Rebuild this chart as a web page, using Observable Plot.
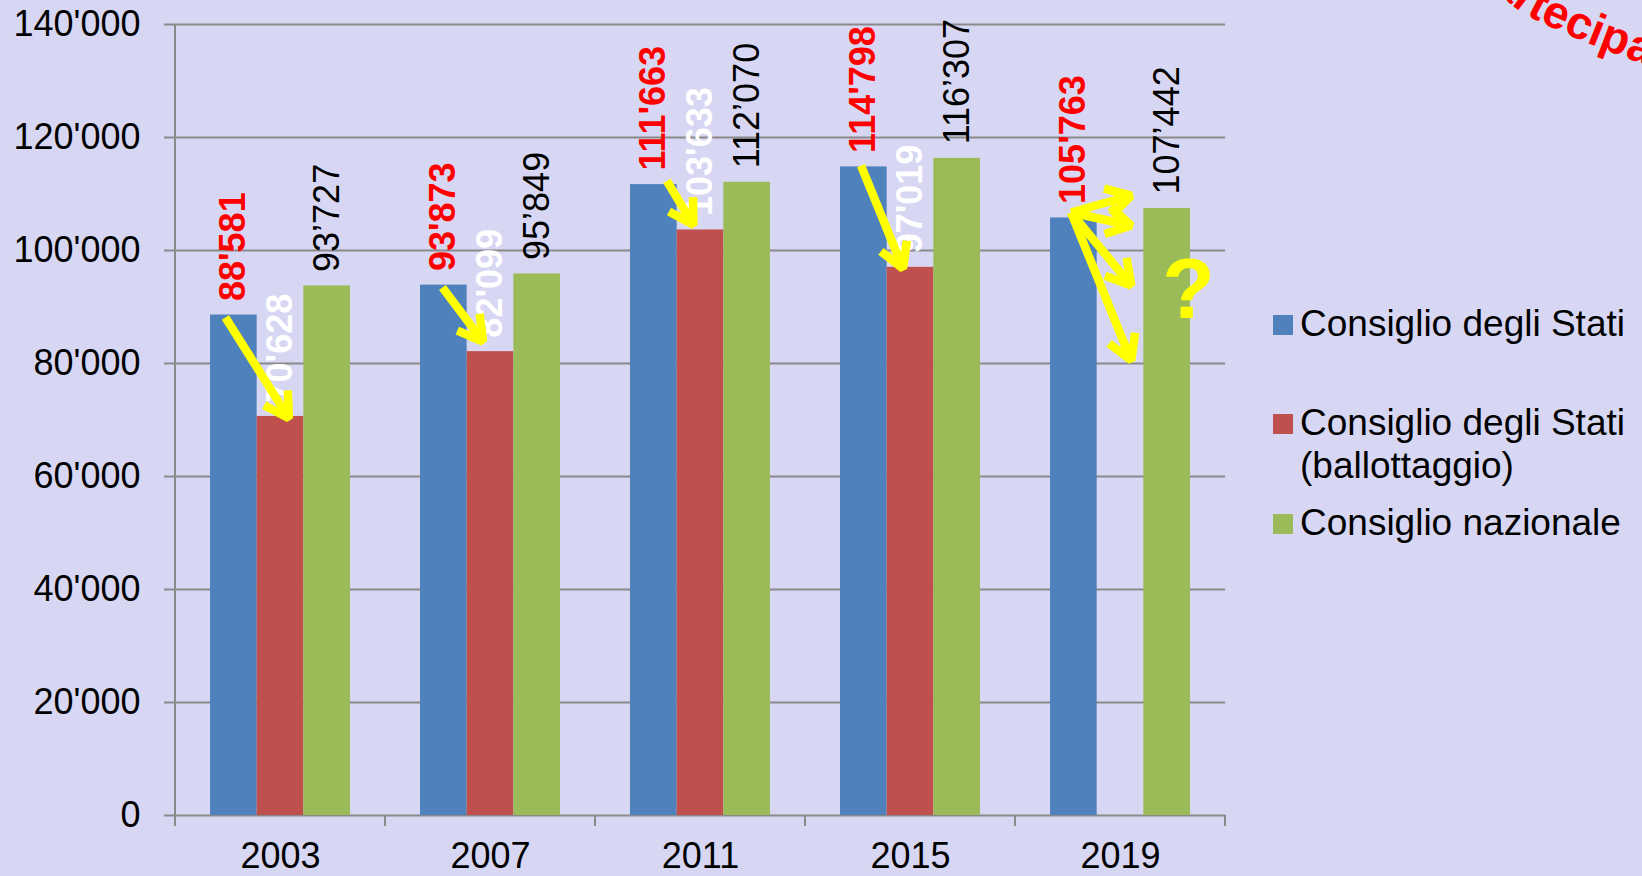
<!DOCTYPE html>
<html><head><meta charset="utf-8">
<script src="https://cdn.jsdelivr.net/npm/d3@7"></script>
<script src="https://cdn.jsdelivr.net/npm/@observablehq/plot@0.6"></script>
<style>
html,body{margin:0;padding:0;background:#D7D7F3;}
#wrap{position:relative;width:1642px;height:876px;overflow:hidden;font-family:"Liberation Sans",Arial,sans-serif;}
.leg{position:absolute;left:1273px;font-size:37px;line-height:43px;color:#000;}
.leg .sw{position:absolute;left:0;top:13px;width:20px;height:20px;}
.leg .tx{position:absolute;left:27px;top:0;white-space:nowrap;}
#deco{position:absolute;left:0;top:0;pointer-events:none;}
</style></head><body><div id="wrap"></div>
<script>
// ---- data ----
const years = ["2003", "2007", "2011", "2015", "2019"];
const series = ["Consiglio degli Stati", "Consiglio degli Stati (ballottaggio)", "Consiglio nazionale"];
const colors = ["#4F81BD", "#C0504D", "#9BBB59"];
const statiValues = [88581, 93873, 111663, 114798, 105763];
const ballottaggioValues = [70628, 82099, 103633, 97019, null];
const nazionaleValues = [93727, 95849, 112070, 116307, 107442];
const yTicks = [0, 20000, 40000, 60000, 80000, 100000, 120000, 140000];
// yellow annotation arrows: x in series-slot units (0 = first bar, 1 = second bar), y in votes
const arrowYears = ["2003", "2007", "2011", "2015", "2019", "2019", "2019", "2019"];
const arrowX1 = [-0.18, -0.03, 0.28, -0.06, -0.06, -0.06, -0.06, -0.06];
const arrowY1 = [88140, 93450, 112300, 115040, 106730, 106730, 106730, 106730];
const arrowX2 = [1.18, 0.84, 0.85, 0.84, 1.23, 1.23, 1.23, 1.23];
const arrowY2 = [70300, 83890, 104500, 96810, 109730, 104420, 93800, 80530];
const questionYear = "2019";
const questionX = 2.46;
const questionLevel = 93000;
const curvedTitle = "Partecipazione";

// ---- build tables ----
const seriesValues = [statiValues, ballottaggioValues, nazionaleValues];
const rows = years.flatMap((y, i) => series.map((s, j) => ({year: y, series: s, slot: j, value: seriesValues[j][i]})))
  .filter(d => d.value != null);
const fmt = v => d3.format(",")(v).replace(/,/g, "'");
const fmtCurly = v => d3.format(",")(v).replace(/,/g, "\u2019");
const arrows = arrowYears.map((y, i) => ({year: y, x1: arrowX1[i], y1: arrowY1[i], x2: arrowX2[i], y2: arrowY2[i]}));

const FONT = '"Liberation Sans", Arial, sans-serif';
const ARROW_W = 8.5, WING = 28;

const labelOpts = {fx: "year", x: "slot", y: "value", rotate: -90, textAnchor: "start", dy: -14, fontSize: 36};

// arrows: lengthen short shafts virtually (then inset them back) so the heads keep their size
function arrowMarks(xs, ys) {
  if (!xs) return [Plot.arrow(arrows, {fx: "year", x1: "x1", y1: "y1", x2: "x2", y2: "y2", stroke: "#FFFF00", strokeWidth: ARROW_W})];
  const kx = xs.apply(1) - xs.apply(0), ky = ys.apply(1) - ys.apply(0);
  return arrows.map(a => {
    const dxp = (a.x2 - a.x1) * kx, dyp = (a.y2 - a.y1) * ky;
    const L = Math.hypot(dxp, dyp);
    const E = Math.max(0, 3 * WING - L + 1);
    const ext = {...a, x1: a.x1 - (dxp / L) * E / kx, y1: a.y1 - (dyp / L) * E / ky};
    return Plot.arrow([ext], {fx: "year", x1: "x1", y1: "y1", x2: "x2", y2: "y2", insetStart: E,
      stroke: "#FFFF00", strokeWidth: ARROW_W, headLength: WING * 1.5 / ARROW_W, strokeLinecap: "butt", strokeLinejoin: "miter"});
  });
}

function makePlot(xs, ys) {
  return Plot.plot({
    width: 1642, height: 876,
    marginLeft: 173, marginRight: 415, marginTop: 24, marginBottom: 61,
    style: {background: "transparent", fontFamily: FONT, fontSize: "36px", overflow: "visible", color: "#000"},
    fx: {domain: years, padding: 0, label: null},
    x: {type: "linear", domain: [-1.25, 3.25], axis: null},
    y: {domain: [0, 140000], axis: null},
    color: {domain: series, range: colors},
    marks: [
      Plot.ruleY(yTicks, {stroke: "#8A8A8A", strokeWidth: 2}),
      Plot.axisY({ticks: yTicks, tickSize: 11, tickPadding: 24, tickFormat: fmt, stroke: "#8A8A8A", strokeWidth: 2, fill: "#000", fontSize: 36, label: null}),
      Plot.rect(rows, {fx: "year", x1: d => d.slot - 0.5, x2: d => d.slot + 0.5, y1: 0, y2: "value", fill: "series"}),
      Plot.axisFx({anchor: "bottom", tickSize: 0, tickPadding: 27, fontSize: 36, label: null, fill: "#000"}),
      Plot.text(rows.filter(d => d.slot === 0), {...labelOpts, text: d => fmt(d.value), fill: "#FF0000", fontWeight: "bold"}),
      Plot.text(rows.filter(d => d.slot === 1), {...labelOpts, text: d => fmt(d.value), fill: "#FFFFFF", fontWeight: "bold"}),
      Plot.text(rows.filter(d => d.slot === 2), {...labelOpts, text: d => fmtCurly(d.value), fill: "#000000"}),
      ...arrowMarks(xs, ys),
      Plot.text([{year: questionYear, x: questionX, level: questionLevel}], {fx: "year", x: "x", y: "level", text: () => "?", fill: "#FFFF00", fontWeight: "bold", fontSize: 86})
    ]
  });
}

const first = makePlot(null, null);
const plot = makePlot(first.scale("x"), first.scale("y"));
document.getElementById("wrap").appendChild(plot);

// value-axis line and category boundary ticks, placed with Plot's own scales
const svg = d3.select(plot);
const fxs = plot.scale("fx"), ys = plot.scale("y");
const g = svg.append("g").attr("stroke", "#8A8A8A").attr("stroke-width", 2);
const x0 = fxs.apply(years[0]);
g.append("line").attr("x1", x0).attr("x2", x0).attr("y1", ys.apply(140000)).attr("y2", ys.apply(0));
const bounds = years.map(y => fxs.apply(y)).concat([fxs.apply(years[years.length - 1]) + fxs.bandwidth]);
bounds.forEach(b => g.append("line").attr("x1", b).attr("x2", b).attr("y1", ys.apply(0)).attr("y2", ys.apply(0) + 11));

// legend
const legendTops = [301.7, 400.7, 500.7];
const legendLabels = ["Consiglio degli Stati", "Consiglio degli Stati<br>(ballottaggio)", "Consiglio nazionale"];
legendLabels.forEach((lab, i) => {
  const d = document.createElement("div");
  d.className = "leg";
  d.style.top = legendTops[i] + "px";
  d.innerHTML = `<span class="sw" style="background:${colors[i]}"></span><span class="tx">${lab}</span>`;
  document.getElementById("wrap").appendChild(d);
});

// curved word-art title (mostly off-canvas, top right)
const deco = d3.select("#wrap").append("svg").attr("id", "deco").attr("width", 1642).attr("height", 876);
const fs = 46;
const arcPts = [[1440, -125], [1470, -60], [1497, -12], [1517, 9], [1532, 18], [1560, 31], [1590, 44], [1640, 63], [1700, 85], [1760, 105]];
const arcPath = deco.append("path").attr("id", "arc").attr("fill", "none")
  .attr("d", d3.line().curve(d3.curveCatmullRom)(arcPts));
const node = arcPath.node();
const total = node.getTotalLength();
let sT = 0;
for (let s = 0; s <= total; s += 0.5) { if (node.getPointAtLength(s).x >= 1532) { sT = s; break; } }
deco.append("text").attr("fill", "#FF0000").attr("font-weight", "bold").attr("font-size", fs)
  .attr("font-family", FONT)
  .append("textPath").attr("href", "#arc").attr("startOffset", Math.max(0, sT - (0.667 + 0.556 + 0.389 + 0.1665) * fs)).text(curvedTitle);
</script>
</body></html>
